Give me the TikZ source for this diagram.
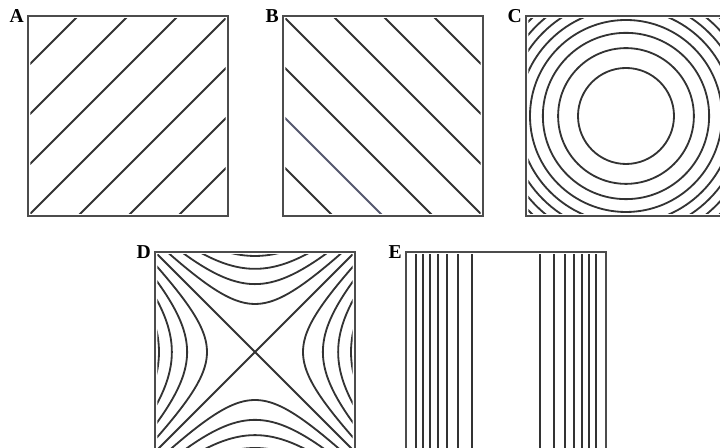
\documentclass[tikz,border=0pt]{standalone}
\usepackage{fontspec}
\setmainfont{Liberation Serif}

\definecolor{fadedline}{RGB}{85,88,110}
\tikzset{
  contour/.style={line width=1.3pt, black!80},
  frame/.style={line width=0.8pt, black!70},
  plabel/.style={font=\fontsize{14}{16}\selectfont\bfseries, inner sep=0pt, anchor=east}
}

\begin{document}
\begin{tikzpicture}[x=0.25mm,y=0.25mm]
\useasboundingbox (0,0) rectangle (720,448);
\clip (0,0) rectangle (720,448);

% A: rising lines
\begin{scope}[shift={(28,232)},x=50mm,y=50mm]
\draw[frame] (0,0) rectangle (1,1);
\clip (0.012,0.012) rectangle (0.988,0.988);
\foreach \k in {-3,...,3}
  \draw[contour] (-1,{-1+0.25*\k}) -- (2,{2+0.25*\k});
\end{scope}
\node[plabel] (A) at (24,432) {A}; %label

% B: falling lines
\begin{scope}[shift={(283,232)},x=50mm,y=50mm]
\draw[frame] (0,0) rectangle (1,1);
\clip (0.012,0.012) rectangle (0.988,0.988);
\foreach \k in {1,3,4,5,6,7}
  \draw[contour] (-1,{1+0.25*\k}) -- (2,{-2+0.25*\k});
\draw[contour,fadedline] (-1,1.5) -- (2,-1.5);
\end{scope}
\node[plabel] (B) at (279,432) {B}; %label

% C: rings
\begin{scope}[shift={(526,232)},x=50mm,y=50mm]
\draw[frame] (0,0) rectangle (1,1);
\clip (0.012,0.012) rectangle (0.988,0.988);
\foreach \k in {1,...,8}
  \draw[contour] (0.5,0.5) circle[radius={0.24*sqrt(\k)}];
\end{scope}
\node[plabel] (C) at (522,432) {C}; %label

% D: saddle
\begin{scope}[shift={(155,-4)},x=50mm,y=50mm]
\draw[frame] (0,0) rectangle (1,1);
\clip (0.012,0.012) rectangle (0.988,0.988);
\draw[contour] (0,0) -- (1,1) (0,1) -- (1,0);
\foreach \k in {1,...,4}{
  \pgfmathsetmacro\ra{0.24*sqrt(\k)}
  \foreach \s in {-1,1}{
    \draw[contour] plot[domain=-1.7:1.7, samples=50, smooth]
      ({0.5+\s*\ra*cosh(\x)},{0.5+\ra*sinh(\x)});
    \draw[contour] plot[domain=-1.7:1.7, samples=50, smooth]
      ({0.5+\ra*sinh(\x)},{0.5+\s*\ra*cosh(\x)});
  }
}
\end{scope}
\node[plabel] (D) at (151,196) {D}; %label

% E: vertical lines
\begin{scope}[shift={(406,-4)},x=50mm,y=50mm]
\draw[frame] (0,0) rectangle (1,1);
\clip (0.012,0.012) rectangle (0.988,0.988);
\foreach \k in {1,...,7}{
  \draw[contour] ({0.5-0.17*sqrt(\k)},-0.1) -- ++(0,1.2);
  \draw[contour] ({0.5+0.17*sqrt(\k)},-0.1) -- ++(0,1.2);
}
\end{scope}
\node[plabel] (E) at (402,196) {E}; %label
\end{tikzpicture}
\end{document}
